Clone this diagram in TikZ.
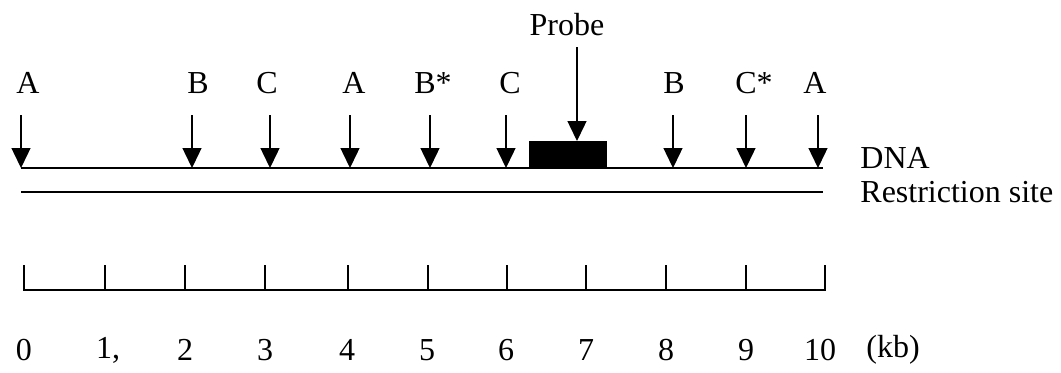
\documentclass[tikz,border=0pt]{standalone}
\usepackage{fontspec}
\setmainfont{Liberation Serif}
\usetikzlibrary{arrows.meta}
\begin{document}
\begin{tikzpicture}[x=0.5pt,y=-0.5pt,
  lbl/.style={font=\fontsize{16}{19}\selectfont, inner sep=0pt},
  cut/.style={line width=0.7pt, -{Triangle[width=9.5pt,length=10pt]}},
  lne/.style={line width=0.9pt},
  tick/.style={line width=0.6pt}]
\useasboundingbox (0,0) rectangle (1061,372);
% DNA and restriction lines
\coordinate (dl) at (21,168);
\coordinate (dr) at (823,168);
\draw[lne] (dl) -- (dr);
\coordinate (rl) at (21,192);
\coordinate (rr) at (823,192);
\draw[lne] (rl) -- (rr);
\node[lbl, anchor=west] (dna) at (860,158) {DNA};
\node[lbl, anchor=west] (rsite) at (860,192) {Restriction site};
% restriction sites
\foreach \i/\x/\lx/\t in {1/21/28/A, 2/192/198/B, 3/270/267/C, 4/350/354/A,
    5/430/433/B*, 6/506/510/C, 7/673/674/B, 8/746/754/C*, 9/818/815/A} {
  \node[lbl] (l\i) at (\lx,83) {\t};
  \coordinate (s\i) at (\x,115);
  \coordinate (e\i) at (\x,168);
  \draw[cut] (s\i) -- (e\i);
}
% probe
\node[draw, fill=black, line width=0.5pt, inner sep=0pt, minimum width=38.5pt,
  minimum height=13pt, anchor=south west] (box) at (529,168) {};
\node[lbl] (probe) at (567,25) {Probe};
\coordinate (ps) at (577,47);
\draw[cut] (ps) -- (ps |- box.north);
% scale
\draw[tick] (24,265) -- (24,290) -- (825,290) -- (825,265);
\foreach \x in {105,185,265,348,428,507,586,666,746} {
  \draw[tick] (\x,290) -- (\x,265);
}
\foreach \i/\x/\t in {0/24/0, 1/108/{1,}, 2/185/2, 3/265/3, 4/347/4, 5/427/5,
    6/506/6, 7/586/7, 8/666/8, 9/746/9, 10/820/10} {
  \node[lbl] (n\i) at (\x,350) {\t};
}
\node[lbl] (kb) at (893,350) {(kb)};
\end{tikzpicture}
\end{document}
